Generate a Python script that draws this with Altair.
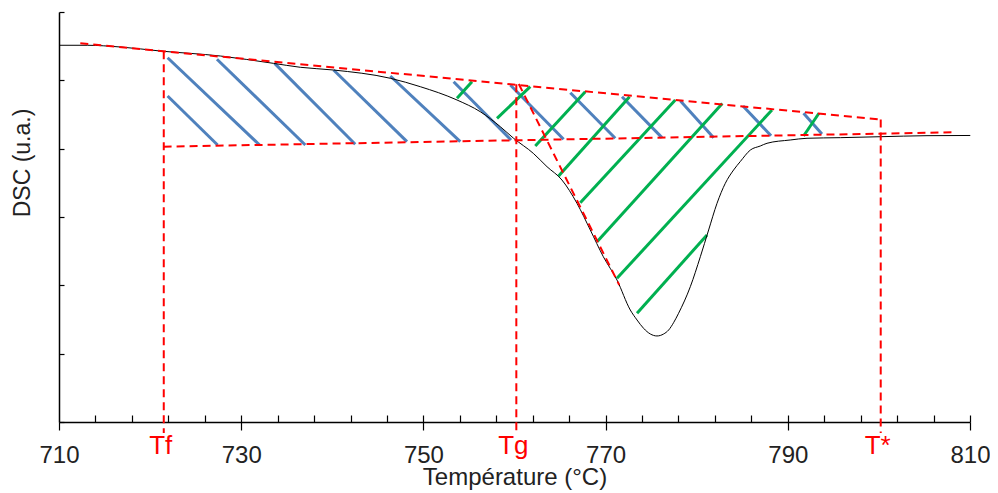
import altair as alt
import pandas as pd

# DSC curve (temperature in °C, signal in arbitrary units)
curve_T = [710.0, 713.1, 716.73, 721.12, 727.71, 733.52, 736.49, 740.11, 746.37, 749.66,
           753.69, 756.24, 758.44, 759.90, 762.06, 763.57, 765.21, 766.86, 768.32, 769.75,
           771.25, 772.71, 773.45, 774.17, 774.91, 775.64, 776.37, 776.92, 777.46, 778.01,
           779.30, 780.40, 781.31, 782.23, 783.14, 784.05, 784.79, 785.89, 786.98, 787.72,
           790.27, 792.11, 795.77, 800.16, 805.28, 810.03]
curve_dsc = [5.513, 5.513, 5.488, 5.429, 5.356, 5.249, 5.191, 5.151, 5.030, 4.907,
             4.712, 4.541, 4.322, 4.152, 3.932, 3.736, 3.541, 3.200, 2.810, 2.419,
             2.078, 1.639, 1.493, 1.371, 1.288, 1.259, 1.288, 1.346, 1.453, 1.591,
             1.980, 2.419, 2.810, 3.200, 3.493, 3.688, 3.812, 3.980, 4.039, 4.079,
             4.127, 4.152, 4.161, 4.175, 4.190, 4.193]

# blue hatching segments
blue_x1 = [721.92, 721.92, 727.34, 733.67, 740.14, 746.37, 753.32, 759.54, 766.13, 771.80, 778.20, 785.08, 791.73]
blue_y1 = [4.771, 5.331, 5.308, 5.249, 5.151, 5.063, 4.980, 4.932, 4.819, 4.760, 4.702, 4.624, 4.518]
blue_x2 = [727.41, 732.02, 737.04, 742.52, 748.20, 754.05, 759.62, 765.39, 771.06, 776.19, 781.86, 788.16, 793.75]
blue_y2 = [4.054, 4.054, 4.054, 4.064, 4.102, 4.102, 4.127, 4.137, 4.152, 4.161, 4.161, 4.190, 4.215]

# green hatching segments
green_x1 = [753.69, 758.08, 762.28, 764.84, 767.22, 769.06, 771.25, 773.45, 791.73]
green_y1 = [4.737, 4.444, 4.039, 3.600, 3.209, 2.639, 2.103, 1.591, 4.185]
green_x2 = [755.33, 761.73, 767.77, 772.63, 777.65, 782.81, 788.26, 781.13, 793.42]
green_y2 = [4.980, 4.907, 4.834, 4.760, 4.712, 4.661, 4.566, 2.737, 4.518]

# characteristic temperatures
marker_T = [721.5, 760.2, 800.2]
marker_labels = ["Tf", "Tg", "T*"]
marker_top = [5.425, 4.943, 4.427]
axis_bottom = -0.161

# red dashed construction lines (upper baseline, lower baseline, diagonal)
red_x1 = [712.34, 721.48, 760.47]
red_y1 = [5.542, 4.029, 4.947]
red_x2 = [800.16, 808.38, 771.50]
red_y2 = [4.427, 4.240, 2.005]

major_ticks = [710, 730, 750, 770, 790, 810]
minor_ticks = list(range(714, 811, 4))
y_ticks = [0, 1, 2, 3, 4, 5, 6]

FONT = "Liberation Sans"
xscale = alt.Scale(domain=[710, 810], nice=False, zero=False)
yscale = alt.Scale(domain=[0, 6], nice=False, zero=False)

curve_df = pd.DataFrame({"T": curve_T, "dsc": curve_dsc, "i": range(len(curve_T))})
blue_df = pd.DataFrame({"x1": blue_x1, "y1": blue_y1, "x2": blue_x2, "y2": blue_y2})
green_df = pd.DataFrame({"x1": green_x1, "y1": green_y1, "x2": green_x2, "y2": green_y2})
red_df = pd.DataFrame({
    "x1": red_x1 + marker_T,
    "y1": red_y1 + marker_top,
    "x2": red_x2 + marker_T,
    "y2": red_y2 + [axis_bottom] * 3,
})
lab_df = pd.DataFrame({"T": marker_T, "label": marker_labels})

main_x_axis = alt.Axis(values=major_ticks, tickSize=8, tickColor="black", tickWidth=1.2,
                       domainColor="black", domainWidth=1.5, labelFont=FONT, labelFontSize=24,
                       labelColor="#222", labelPadding=13, labelFlush=False, grid=False,
                       title="Température (°C)", titleFont=FONT, titleFontSize=24,
                       titleFontWeight="normal", titleColor="#222", titleBaseline="alphabetic",
                       titleY=62, orient="bottom")
main_y_axis = alt.Axis(values=y_ticks, ticks=False, labels=False, domainColor="black",
                       domainWidth=1.5, grid=False, title="DSC (u.a.)", titleFont=FONT,
                       titleFontSize=23, titleFontWeight="normal", titleColor="#222",
                       titleAngle=270, titleBaseline="alphabetic", titleAlign="center",
                       titleX=-30, titleY=150.5, orient="left")
inner_x_axis = alt.Axis(values=minor_ticks, tickSize=7, offset=-7, domain=False, labels=False,
                        tickColor="black", tickWidth=1.2, title=None, grid=False, orient="bottom")
inner_y_axis = alt.Axis(values=y_ticks, tickSize=5, offset=-5, domain=False, labels=False,
                        tickColor="black", tickWidth=1.2, title=None, grid=False, orient="left")

blue = alt.Chart(blue_df).mark_rule(color="#4F81BD", strokeWidth=3).encode(
    x=alt.X("x1:Q", scale=xscale, axis=inner_x_axis),
    y=alt.Y("y1:Q", scale=yscale, axis=inner_y_axis),
    x2="x2:Q", y2="y2:Q")

green = alt.Chart(green_df).mark_rule(color="#00B050", strokeWidth=3).encode(
    x=alt.X("x1:Q", scale=xscale, axis=None),
    y=alt.Y("y1:Q", scale=yscale, axis=None),
    x2="x2:Q", y2="y2:Q")

curve = alt.Chart(curve_df).mark_line(color="black", strokeWidth=1, interpolate="monotone").encode(
    x=alt.X("T:Q", scale=xscale, axis=main_x_axis),
    y=alt.Y("dsc:Q", scale=yscale, axis=main_y_axis),
    order="i:Q")

red = alt.Chart(red_df).mark_rule(color="#FF0000", strokeWidth=2, strokeDash=[8, 5]).encode(
    x=alt.X("x1:Q", scale=xscale, axis=None),
    y=alt.Y("y1:Q", scale=yscale, axis=None),
    x2="x2:Q", y2="y2:Q")

labels = alt.Chart(lab_df).mark_text(color="#FF0000", font=FONT, fontSize=26, align="center",
                                     baseline="alphabetic", dx=-3).encode(
    x=alt.X("T:Q", scale=xscale, axis=None),
    y=alt.value(441.6),
    text="label:N")

chart = alt.layer(blue, green, curve, red, labels).resolve_axis(
    x="independent", y="independent"
).properties(
    width=911, height=410,
    background="white",
    autosize=alt.AutoSizeParams(type="none"),
    padding={"left": 51, "top": 4, "right": 20, "bottom": 71},
).configure_view(stroke="transparent", strokeWidth=0)

chart.save("out.html", embed_options={"renderer": "svg", "actions": False})
